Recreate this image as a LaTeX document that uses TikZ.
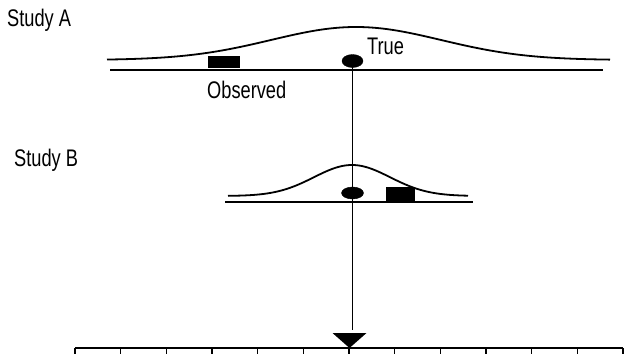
\documentclass[tikz,border=0pt]{standalone}
\usepackage{fontspec}
\setmainfont[FakeStretch=0.76]{Liberation Sans}
\usetikzlibrary{shapes.geometric}
\tikzset{
  lbl/.style={anchor=base west, inner sep=0pt, font=\fontsize{24}{28}\selectfont},
  dot/.style={ellipse, fill=black, draw=black, inner sep=0pt},
  obs/.style={rectangle, fill=black, draw=black, inner sep=0pt, anchor=north west},
  base/.style={line width=1.3pt},
  curve/.style={line width=1.8pt},
  conn/.style={line width=1.3pt}
}
\begin{document}
\begin{tikzpicture}[x=1pt,y=-1pt]
\useasboundingbox (0,0) rectangle (624,356);
% labels
\node[lbl] (studyA) at (7,26) {Study A};
\node[lbl] (studyB) at (14,166) {Study B};
\node[lbl] (obsLbl) at (207,98) {Observed};
\node[lbl] (trueLbl) at (367,54) {True};
% Study A
\draw[base] (110,70) -- (603,70);
\draw[curve] plot[domain=107:610, samples=150] (\x, {60-33*exp(-0.5*((\x-356)/85)^2)});
\node[obs, minimum width=31pt, minimum height=11pt] (obsA) at (208,56) {};
\node[dot, minimum width=21pt, minimum height=13pt] (trueA) at (352.5,61) {};
% Study B
\draw[base] (225,202) -- (473,202);
\draw[curve] plot[domain=228:468, samples=120] (\x, {196-31*exp(-0.5*((\x-352)/38)^2)});
\node[obs, minimum width=28pt, minimum height=13pt] (obsB) at (386,187) {};
\node[dot, minimum width=22pt, minimum height=12pt] (trueB) at (352.5,193) {};
% connector
\coordinate (lineEnd) at (352.5,330);
\draw[conn] (trueA.center) -- (lineEnd);
% arrow head
\coordinate (tip) at (349.5,348);
\fill (tip) -- ++(-17,-15) -- ++(34,0) -- cycle;
% axis
\draw[base] (75,348) -- (623,348);
\foreach \k in {0,...,12} {
  \draw[line width=1.1pt] ({75+\k*45.67},348) -- ({75+\k*45.67},354);
}
\end{tikzpicture}
\end{document}
